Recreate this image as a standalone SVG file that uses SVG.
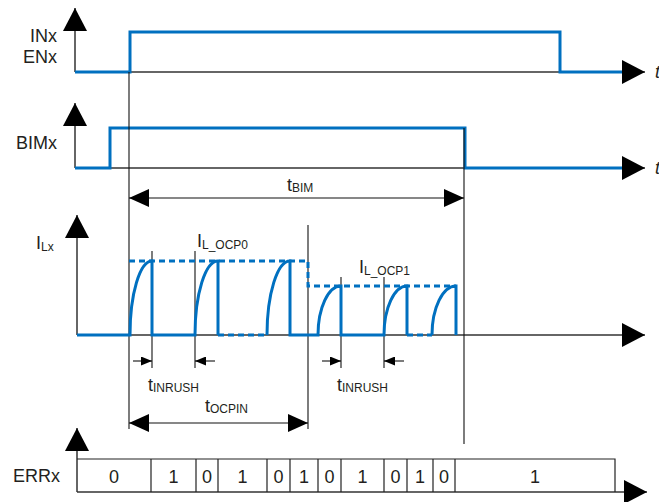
<svg xmlns="http://www.w3.org/2000/svg" width="659" height="502" viewBox="0 0 659 502">
<style>
text{font-family:"Liberation Sans",Arial,sans-serif;fill:#231f20;font-size:18px}
.sub{font-size:12px}
.ax{fill:none;stroke:#333;stroke-width:1.5}
.th{fill:none;stroke:#111;stroke-width:1.1}
.sig{fill:none;stroke:#0070c0;stroke-width:3}
.dash{fill:none;stroke:#0070c0;stroke-width:3;stroke-dasharray:6 4}
.box{fill:none;stroke:#222;stroke-width:1.2}
.mid{text-anchor:middle}
.end{text-anchor:end}
</style>
<defs>
<marker id="ah" markerUnits="userSpaceOnUse" viewBox="0 0 23 24" refX="23" refY="12" markerWidth="23" markerHeight="24" orient="auto"><path d="M0,0 L23,12 L0,24 z" fill="#000"/></marker>
<marker id="dim" markerUnits="userSpaceOnUse" viewBox="0 0 20 18" refX="20" refY="9" markerWidth="20" markerHeight="18" orient="auto-start-reverse"><path d="M0,0 L20,9 L0,18 z" fill="#000"/></marker>
<marker id="sm" markerUnits="userSpaceOnUse" viewBox="0 0 11 9" refX="11" refY="4.5" markerWidth="11" markerHeight="9" orient="auto"><path d="M0,0 L11,4.5 L0,9 z" fill="#000"/></marker>
</defs>

<g id="axes">
<path class="ax" d="M75,72 V8" marker-end="url(#ah)"/>
<path class="ax" d="M75,72 H645" marker-end="url(#ah)"/>
<path class="ax" d="M75,168 V103" marker-end="url(#ah)"/>
<path class="ax" d="M75,168 H645" marker-end="url(#ah)"/>
<path class="ax" d="M77,335 V215" marker-end="url(#ah)"/>
<path class="ax" d="M77,335 H645" marker-end="url(#ah)"/>
<path class="ax" d="M77,492 V428" marker-end="url(#ah)"/>
<path class="ax" d="M77,492 H647" marker-end="url(#ah)"/>
</g>

<g id="labels">
<text class="end" x="57" y="42">INx</text>
<text class="end" x="57" y="63">ENx</text>
<text class="end" x="57" y="149">BIMx</text>
<text x="36" y="249">I<tspan class="sub" dy="2">Lx</tspan></text>
<text x="13" y="482">ERRx</text>
<text x="655" y="78" font-style="italic">t</text>
<text x="655" y="174" font-style="italic">t</text>
</g>

<g id="signal-inx">
<path class="sig" d="M75,72 H130 V32 H560 V72 H622"/>
</g>
<g id="signal-bimx">
<path class="sig" d="M75,168 H110 V128 H465 V168 H622"/>
</g>

<g id="markers">
<path class="th" d="M129,72 V429"/>
<path class="th" d="M152,251 V368"/>
<path class="th" d="M195,251 V368"/>
<path class="th" d="M308,225 V429"/>
<path class="th" d="M341,277 V368"/>
<path class="th" d="M384,277 V368"/>
<path class="th" d="M464,128 V444"/>
</g>

<g id="signal-ilx">
<path class="dash" d="M129,261 H308 V286 H456"/>
<path class="sig" d="M77,335 H130 A22,74 0 0 1 152,261 V335 H195 A23,74 0 0 1 218,261 V335"/>
<path class="dash" d="M218,335 H267"/>
<path class="sig" d="M267,335 A23,74 0 0 1 290,261 V335 H318 A23,49 0 0 1 341,286 V335 H384 A23,49 0 0 1 407,286 V335"/>
<path class="dash" d="M407,335 H432"/>
<path class="sig" d="M432,335 A24,49 0 0 1 456,286 V335"/>
<text x="197" y="247">I<tspan class="sub" dy="2">L_OCP0</tspan></text>
<text x="359" y="273">I<tspan class="sub" dy="2">L_OCP1</tspan></text>
</g>

<g id="connectors">
<path class="th" d="M129,198 H464" marker-start="url(#dim)" marker-end="url(#dim)"/>
<path class="th" d="M129,423 H308" marker-start="url(#dim)" marker-end="url(#dim)"/>
<path class="th" d="M133,361 H152" marker-end="url(#sm)"/>
<path class="th" d="M215,361 H195" marker-end="url(#sm)"/>
<path class="th" d="M322,361 H341" marker-end="url(#sm)"/>
<path class="th" d="M404,361 H384" marker-end="url(#sm)"/>
</g>

<g id="timing-labels">
<text x="287" y="191">t<tspan class="sub" dy="1">BIM</tspan></text>
<text x="148" y="391">t<tspan class="sub" dy="1">INRUSH</tspan></text>
<text x="337" y="391">t<tspan class="sub" dy="1">INRUSH</tspan></text>
<text x="205" y="412">t<tspan class="sub" dy="1">OCPIN</tspan></text>
</g>

<g id="errx">
<path class="box" d="M77,459 H615 V492 M151,459 V492 M196,459 V492 M218,459 V492 M267,459 V492 M290,459 V492 M318,459 V492 M341,459 V492 M384,459 V492 M407,459 V492 M433,459 V492 M455,459 V492"/>
<text class="mid" x="114" y="483">0</text>
<text class="mid" x="173.5" y="483">1</text>
<text class="mid" x="207" y="483">0</text>
<text class="mid" x="242.5" y="483">1</text>
<text class="mid" x="278.5" y="483">0</text>
<text class="mid" x="304" y="483">1</text>
<text class="mid" x="329.5" y="483">0</text>
<text class="mid" x="362.5" y="483">1</text>
<text class="mid" x="395.5" y="483">0</text>
<text class="mid" x="420" y="483">1</text>
<text class="mid" x="444" y="483">0</text>
<text class="mid" x="535" y="483">1</text>
</g>
</svg>
